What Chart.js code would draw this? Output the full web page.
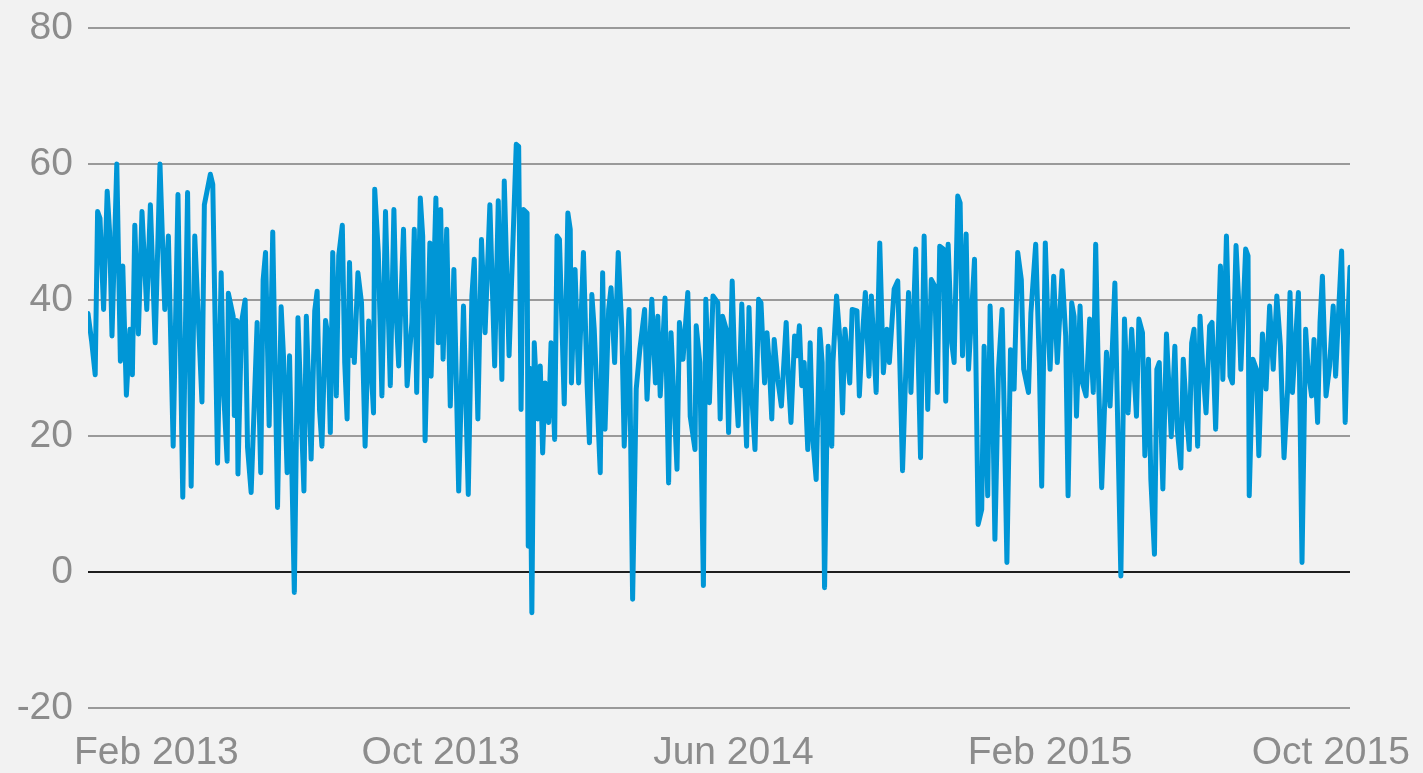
<!DOCTYPE html>
<html>
<head>
<meta charset="utf-8">
<script src="https://cdn.jsdelivr.net/npm/chart.js@4/dist/chart.umd.min.js"></script>
<style>
  html, body { margin: 0; padding: 0; background: #f2f2f2; }
  #wrap { width: 1423px; height: 773px; position: relative; }
</style>
</head>
<body>
<div id="wrap"><canvas id="c"></canvas></div>
<script>
// Day offsets from the start of the series (≈ Dec 2012)
const days = [
  0,3,6,8,10,13,16,18,20,24,27,29,32,35,37,39,42,45,49,52,56,60,64,67,71,75,79,83,86,89,95,97,102,104,108,111,113,116,117,121,122,124,125,128,131,133,136,141,144,146,148,151,154,158,161,163,166,168,172,175,
  180,182,186,189,191,193,195,198,200,202,204,207,209,212,214,216,218,220,221,222,225,228,231,234,238,239,242,245,248,252,255,257,259,263,266,270,272,274,277,279,281,285,286,290,292,294,296,299,302,305,309,313,317,320,322,325,328,331,335,339,342,345,347,351,
  357,359,361,363,366,367,368,370,372,375,377,379,381,384,386,389,391,393,397,400,402,403,406,409,413,416,418,420,422,427,429,431,434,436,439,442,445,447,451,454,457,460,464,466,470,473,475,477,481,484,486,491,493,496,500,502,506,507,510,513,515,518,521,
  525,527,529,532,534,537,539,542,545,547,549,551,553,556,559,561,564,566,568,570,572,575,578,582,584,586,589,591,593,595,597,600,602,604,607,610,612,614,617,620,621,624,627,629,631,635,637,641,643,645,648,651,653,657,660,663,666,668,672,675,679,681,684,686,690,694,697,
  700,703,706,708,710,713,715,717,720,722,725,727,729,732,734,739,742,745,747,750,752,754,756,759,762,764,766,769,772,775,778,780,784,786,790,793,795,798,800,802,805,808,812,815,817,820,822,824,827,829,832,835,838,840,842,845,849,852,856,859,861,864,867,870,874,
  876,879,881,884,886,889,891,893,896,899,903,906,908,911,913,916,918,920,922,925,927,929,932,935,937,940,942,944,946,949,952,954,957,959,961,965,967,968,971,974,976,979,982,985,988,991,994,997,1000,1002,1004,1009,1012,1015,1017,1020,1022,1025,1027,1029,1032,1035,1038,1040,1043,1045,1048,1050,1052
];
const values = [
  38,34,29,53,52,38.6,56,50,34.7,60,31,45,26,35.7,29,51,35,53,38.6,54,33.7,60,38.6,49.4,18.5,55.5,11,55.8,12.6,49.4,25,54,58.5,57,16,44,26.7,16.3,41,37.6,23,37,14.4,36.7,40,18.3,11.7,36.7,14.6,43,47,21.5,50,9.5,39,31.6,14.6,31.8,-3,37.4,
  11.9,37.6,16.6,38.4,41.3,23.9,18.5,37,34.7,20.5,47,25.9,46.5,51,30.8,22.5,45.5,31.8,36,30.8,44,39.6,18.5,36.9,23.4,56.3,47,25.9,53,27.4,53.3,37.6,30.3,50.4,27.4,36.7,50.4,26.4,55,49.4,19.3,48.4,28.8,55,33.7,53.3,31.3,50.4,24.4,44.5,11.9,39.1,11.4,40.6,46,22.5,48.9,35.2,54,30.3,54.6,28.3,57.5,31.8,
  62.9,62.6,23.9,53.3,52.8,3.8,30,-6,33.7,22.5,30.3,17.5,27.8,22,33.7,19.5,49.4,48.9,24.7,52.8,50.4,27.8,44.5,27.8,47,27.8,19,40.8,35.7,14.6,44,21,38.6,41.8,30.8,47,35.7,18.5,38.6,-4,26.9,32.7,38.6,25.4,40.1,27.8,37.6,25.9,40.3,13.1,35.2,15.1,36.7,31.3,41.1,22.9,18,36.2,30.8,-2,40.1,24.9,40.6,
  39.6,22.5,37.6,35.7,20.5,42.8,30.8,21.5,39.4,27.8,18.5,38.9,26.9,18,40.1,39.6,27.8,35.2,30.3,22.5,34.2,28.3,24.4,36.7,27.8,22,34.7,31.8,36.2,27.4,30.8,18,33.7,20,13.6,35.7,30.8,-2.3,33.2,18.5,30.8,40.6,33.7,23.4,35.7,27.8,38.6,38.4,25.9,33.2,41.1,28.8,40.6,26.4,48.4,29.3,35.7,30.8,41.6,42.8,14.9,25.9,41.1,26.4,47.5,16.8,49.4,
  23.9,43,42,26.4,47.9,47.5,25.1,48.2,33.7,30.8,55.3,54.3,31.8,49.7,29.8,46,7,9.2,33.2,11.2,39.1,26.9,4.8,29.8,38.6,21,1.4,32.7,26.9,47,43,29.8,26.4,38.1,48.2,30.8,12.6,48.4,37.6,29.8,43.5,30.8,44.3,34.7,11.2,39.6,37.6,22.9,39.1,27.8,25.9,37.2,26.4,48.2,30.8,12.4,32.3,24.4,42.5,16.1,-0.6,37.2,23.4,35.7,22.9,
  37.2,35.2,17.1,31.3,13.6,2.6,29.8,30.8,12.2,35,19.9,33.2,21,15.3,31.3,22.5,18,33.7,35.7,18.5,37.6,30.8,23.4,36.2,36.7,21,33.7,45,28.3,49.4,28.8,27.8,48,40.6,29.8,47.5,46.5,11.2,31.3,29.8,17.1,35,26.9,39.1,29.8,40.6,33.2,16.8,26.9,41.1,26.4,41.1,1.4,35.7,29.8,25.9,34.2,22,36.7,43.5,25.9,30.3,39.1,28.8,40.1,47.2,22,35.7,44.8
];
const tickDays = [57, 294, 538, 802, 1036];
const tickLabels = ['Feb 2013', 'Oct 2013', 'Jun 2014', 'Feb 2015', 'Oct 2015'];
const yMin = -20, yMax = 80, yStep = 20;
const dayMax = 1052;

const points = days.map((d, i) => ({ x: d, y: values[i] }));
const FONT = { family: "'Liberation Sans', Arial, sans-serif", size: 39 };

function noOverflowPadding(s) {
  s.paddingTop = 0; s.paddingBottom = 0; s.paddingLeft = 0; s.paddingRight = 0;
}

new Chart(document.getElementById('c'), {
  type: 'line',
  data: {
    datasets: [{
      data: points,
      borderColor: '#0096d6',
      borderWidth: 5,
      borderJoinStyle: 'round',
      borderCapStyle: 'round',
      pointRadius: 0,
      tension: 0,
      fill: false
    }]
  },
  options: {
    responsive: true,
    maintainAspectRatio: false,
    animation: false,
    events: [],
    layout: { padding: { top: 28, right: 73, left: 0, bottom: 0 } },
    plugins: { legend: { display: false }, tooltip: { enabled: false } },
    scales: {
      x: {
        type: 'linear',
        min: 0,
        max: dayMax,
        afterBuildTicks: (s) => { s.ticks = tickDays.map(v => ({ value: v })); },
        afterFit: (s) => { s.height = 65; noOverflowPadding(s); },
        ticks: {
          autoSkip: false,
          maxRotation: 0,
          padding: 22,
          color: '#8c8c8c',
          font: FONT,
          callback: (v) => { const i = tickDays.indexOf(v); return i >= 0 ? tickLabels[i] : ''; }
        },
        grid: { display: false, drawTicks: false },
        border: { display: false }
      },
      y: {
        min: yMin,
        max: yMax,
        afterFit: (s) => { s.width = 88; noOverflowPadding(s); },
        ticks: { stepSize: yStep, padding: 15, color: '#8c8c8c', font: FONT },
        grid: {
          drawTicks: false,
          lineWidth: 2,
          color: (ctx) => (ctx.tick && ctx.tick.value === 0) ? '#1e1e1e' : '#9a9a9a'
        },
        border: { display: false }
      }
    }
  }
});
</script>
</body>
</html>
